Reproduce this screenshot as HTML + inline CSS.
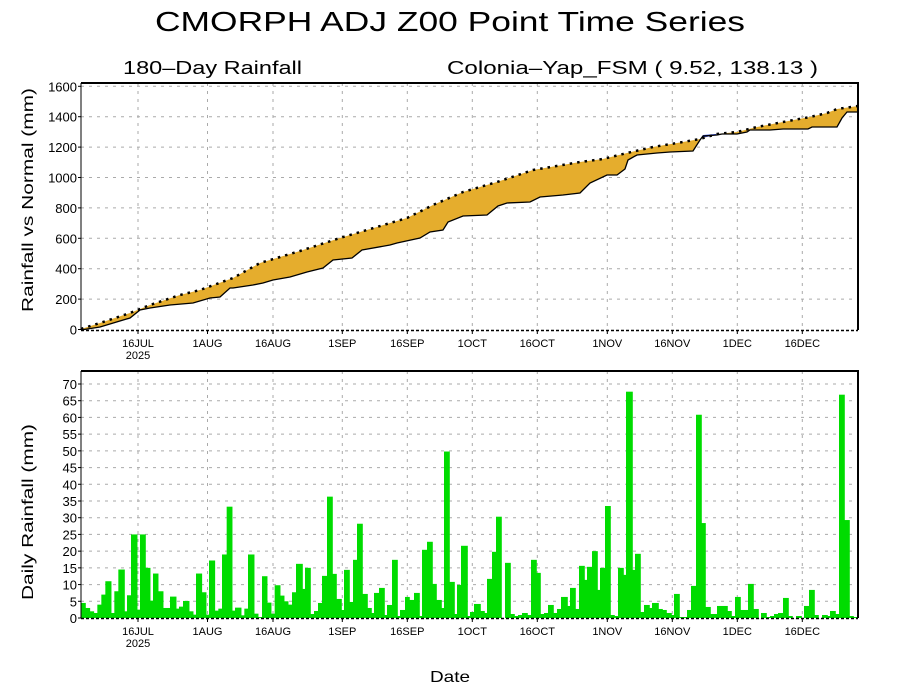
<!DOCTYPE html>
<html><head><meta charset="utf-8"><style>
html,body{margin:0;padding:0;background:#fff;}
svg{display:block;font-family:"Liberation Sans",sans-serif;}
</style></head><body>
<svg id="s" width="900" height="700" viewBox="0 0 900 700" xmlns="http://www.w3.org/2000/svg">
<rect width="900" height="700" fill="#fff"/>
<text x="450" y="31" font-size="28" text-anchor="middle" textLength="590" lengthAdjust="spacingAndGlyphs">CMORPH ADJ Z00 Point Time Series</text>
<text x="123" y="74" font-size="18" textLength="179" lengthAdjust="spacingAndGlyphs">180–Day Rainfall</text>
<text x="447" y="74" font-size="18" textLength="371" lengthAdjust="spacingAndGlyphs">Colonia–Yap_FSM ( 9.52, 138.13 )</text>
<text transform="translate(33,200) rotate(-90)" font-size="16" text-anchor="middle" textLength="224" lengthAdjust="spacingAndGlyphs">Rainfall vs Normal (mm)</text>
<text transform="translate(33,512) rotate(-90)" font-size="16" text-anchor="middle" textLength="176" lengthAdjust="spacingAndGlyphs">Daily Rainfall (mm)</text>
<text x="450" y="682" font-size="16" text-anchor="middle" textLength="40" lengthAdjust="spacingAndGlyphs">Date</text>
<g id="g1"></g>
</svg>
<script>
var NS="http://www.w3.org/2000/svg",g=document.getElementById("g1");
function el(t,a,txt){var e=document.createElementNS(NS,t);for(var k in a)e.setAttribute(k,a[k]);if(txt!=null)e.textContent=txt;g.appendChild(e);return e;}
var X0=81,X1=858;
var ticks=[[138,"16JUL"],[207.5,"1AUG"],[273,"16AUG"],[342.3,"1SEP"],[407.3,"16SEP"],[472.3,"1OCT"],[537.3,"16OCT"],[607.3,"1NOV"],[672.3,"16NOV"],[737.3,"1DEC"],[802.3,"16DEC"]];
function panel(top,bot,ylabs){
  ticks.forEach(function(t){el("line",{x1:t[0],x2:t[0],y1:top,y2:bot,stroke:"#aaa","stroke-dasharray":"3,5"});
    el("line",{x1:t[0],x2:t[0],y1:bot,y2:bot+4,stroke:"#000"});
    el("text",{x:t[0],y:bot+17,"font-size":11,"text-anchor":"middle"},t[1]);});
  el("text",{x:138,y:bot+29,"font-size":11,"text-anchor":"middle"},"2025");
  ylabs.forEach(function(l){ if(l[0]>top+1&&l[0]<bot-1) el("line",{x1:X0,x2:X1,y1:l[0],y2:l[0],stroke:"#aaa","stroke-dasharray":"3,5"});
    el("line",{x1:X0-3,x2:X0,y1:l[0],y2:l[0],stroke:"#000"});
    el("text",{x:77,y:l[0]+5,"font-size":13,"text-anchor":"end"},l[1]);});
}
var yl1=[];for(var v=0;v<=1600;v+=200)yl1.push([329.5-v*0.152,String(v)]);
panel(83,330,yl1);
var yl2=[];for(var v=0;v<=70;v+=5)yl2.push([618-v*3.343,String(v)]);
panel(371,618,yl2);
var N=[[81,329],[100,323],[130,313],[150,305],[180,295],[200,290],[233,278],[260,263],[280,257],[300,251],[340,238],[407,218],[433,205],[463,192],[497,182],[533,170],[580,162],[603,159],[627,153],[653,147],[683,142],[700,139],[717,134],[737,132],[757,127],[783,122],[810,117],[827,113],[837,109],[858,106]];
var A=[[81,330],[100,327],[130,318],[140,310],[150,308],[170,305],[193,303],[210,298],[220,297],[230,288],[233,288],[253,285],[263,283],[273,280],[290,277],[307,272],[323,268],[333,260],[352,258],[362,250],[390,245],[397,243],[420,238],[430,232],[443,230],[448,222],[463,216],[487,215],[498,206],[507,203],[530,202],[540,197],[563,195],[580,193],[590,183],[607,175],[617,175],[625,169],[628,160],[637,155],[657,153],[670,152],[693,151],[700,140],[703,136],[717,135],[722,134],[737,134],[747,132],[750,130],[770,130],[783,129],[808,129],[812,127],[837,127],[842,118],[847,112],[858,112]];
function pts(a){return a.map(function(p){return p[0]+","+p[1];}).join(" ");}
el("polygon",{points:pts(N)+" "+pts(A.slice().reverse()),fill:"#e5ad2d"});
el("polygon",{points:"701,138 703,135 716,134 717,135 706,137",fill:"#2040e0"});
el("polyline",{points:pts(A),fill:"none",stroke:"#000","stroke-width":1.3});
el("polyline",{points:pts(N),fill:"none",stroke:"#000","stroke-width":2.5,"stroke-dasharray":"2.5,5"});
var z2=[[243,255,4.5],[255,268,3],[268,280,2],[280,292,1.5],[292,304,4],[304,316,7],[316,332,11],[332,343,1.5],[343,355,8],[355,372,14.5],[372,381,2],[381,393,6.8],[393,410,25],[410,420,2.5],[420,435,25],[435,449,15],[449,459,5.2],[459,473,13.3],[473,488,8],[488,510,3],[510,527,6.4],[527,537,2.8],[537,549,3.4],[549,566,5.1],[566,578,2],[578,588,1],[588,604,13.3],[604,617,7.7],[617,627,1],[627,643,17.2],[643,655,2.2],[655,666,2.8],[666,680,19],[680,695,33.3],[695,705,2.2],[705,722,3.1],[722,733,0.8],[733,744,2.8],[744,761,19],[761,773,1.3],[773,785,0.3],[786,800,12.5],[800,812,4.6],[812,824,1.3],[824,839,9.8],[839,851,6.7],[851,863,5],[863,876,4]];
var z3=[[6,18,7.7],[18,36,16.2],[36,45,8.7],[45,60,15],[60,72,1.2],[72,84,2.1],[84,96,4.5],[96,111,12.6],[111,126,36.3],[126,138,13.2],[138,153,5.7],[153,162,2.4],[162,177,14.4],[177,189,4.8],[189,201,17.4],[201,216,28.2],[216,231,7.2],[231,243,3],[243,252,1.5],[252,267,7.5],[267,282,9],[282,291,0.9],[291,306,3.9],[306,321,17.4],[321,330,0.6],[330,345,2.4],[345,357,6.3],[357,372,5.4],[372,387,7.5],[387,396,0.6],[396,411,20.4],[411,426,22.8],[426,438,10.2],[438,453,5.4],[453,462,3],[462,477,49.8],[477,492,10.8],[492,501,1.2],[501,513,9.9],[513,531,21.6],[531,540,0.6],[540,552,1.8],[552,570,4.2],[570,582,2.1],[582,591,1.5],[591,606,11.7],[606,618,19.8],[618,633,30.3],[645,660,16.5],[660,672,1.2],[672,684,0.6],[684,696,0.9],[696,711,1.5],[711,723,0.9],[723,738,17.4],[738,750,13.5],[750,762,1.2],[762,774,1.5],[774,789,3.9],[789,801,1.5],[801,813,2.7],[813,831,6.3],[831,840,3.6],[840,855,9],[855,867,2.7]];
var z4=[[27,42,15.6],[42,51,11.4],[51,66,15.3],[66,81,20],[81,90,8.4],[90,105,15],[105,120,33.5],[120,132,0.9],[132,144,0.6],[144,159,15],[159,168,12.9],[168,186,67.7],[186,195,14.4],[195,210,19.2],[210,222,1.8],[222,237,3.9],[237,246,3],[246,264,4.5],[264,276,2.7],[276,288,2.4],[288,303,1.5],[303,312,0.9],[312,327,7.2],[327,351,0.3],[351,363,2.4],[363,378,9.6],[378,393,60.8],[393,405,28.4],[405,420,3.3],[420,441,1.2],[441,471,3.6],[471,483,2.1],[483,495,0.6],[495,510,6.3],[510,534,2.4],[534,549,10.2],[549,564,2.7],[573,588,1.5],[588,600,0.3],[600,612,0.6],[612,624,1.2],[624,639,1.5],[639,654,6],[654,666,0.6],[678,693,0.6],[702,717,3.6],[717,732,8.4],[732,744,0.9],[756,771,0.9],[771,780,0.6],[780,795,2.1],[795,807,1.2],[807,822,66.8],[822,837,29.3],[837,849,0.6],[849,861,0.3]];
function bars(list,off){list.forEach(function(b){var x0=off+b[0]/3,x1=off+b[1]/3,h=b[2]*3.343;if(h<=0)return;
  el("rect",{x:x0,y:618-h,width:x1-x0+0.8,height:h,fill:"#00dc00"});});}
bars(z2,0);bars(z3,290);bars(z4,570);
[[83,330],[371,618]].forEach(function(p){
  el("line",{x1:X0,x2:X1+1,y1:p[0],y2:p[0],stroke:"#000","stroke-width":2});
  el("line",{x1:X1,x2:X1,y1:p[0],y2:p[1],stroke:"#000","stroke-width":2});
  el("line",{x1:X0,x2:X0,y1:p[0],y2:p[1],stroke:"#000","stroke-width":1});
  el("line",{x1:X0,x2:X1,y1:p[1]+0.5,y2:p[1]+0.5,stroke:"#000","stroke-width":1.5,"stroke-dasharray":"3,2"});
});
</script>
</body></html>
